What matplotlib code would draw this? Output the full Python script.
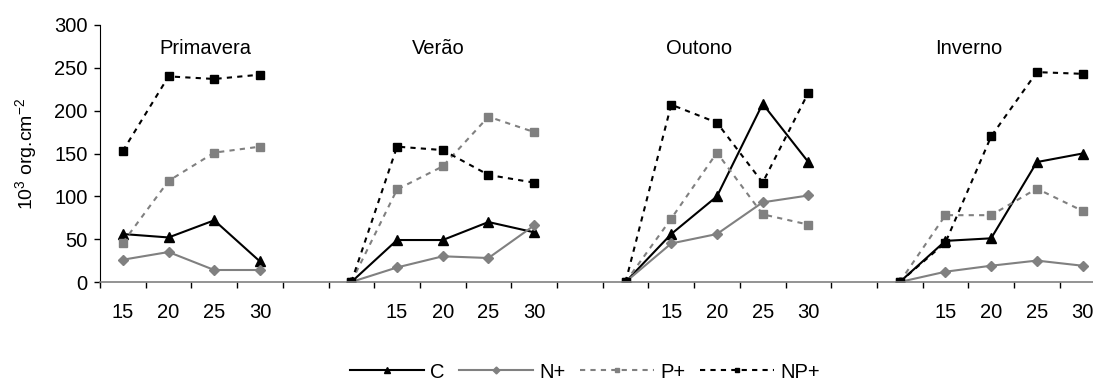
import numpy as np
import matplotlib.pyplot as plt
from matplotlib.lines import Line2D

plt.rcParams['font.family'] = ['Liberation Sans', 'DejaVu Sans']
plt.rcParams['mathtext.fontset'] = 'custom'
plt.rcParams['mathtext.rm'] = 'Liberation Sans'

# seasons and temperatures
seasons = ["Primavera", "Verão", "Outono", "Inverno"]
temps = ["15", "20", "25", "30"]

# values per season (Verão, Outono, Inverno start with a 0 point)
c_vals = [[56, 52, 72, 24], [0, 49, 49, 70, 58], [0, 56, 100, 208, 140], [0, 48, 51, 140, 150]]
n_vals = [[26, 35, 14, 14], [0, 17, 30, 28, 66], [0, 45, 56, 93, 101], [0, 12, 19, 25, 19]]
p_vals = [[46, 118, 151, 158], [0, 108, 135, 193, 175], [0, 74, 151, 79, 67], [0, 78, 78, 109, 83]]
np_vals = [[153, 240, 237, 242], [0, 158, 154, 125, 116], [0, 207, 186, 116, 221], [0, 46, 170, 245, 243]]


def flatten(groups):
    # join seasons with a gap (NaN) between them
    out = []
    for i, g in enumerate(groups):
        if i > 0:
            out.append(np.nan)
        out.extend(g)
    return np.array(out, dtype=float)


# x tick labels: blank for the 0 point and for gaps
labels = []
for i, g in enumerate(c_vals):
    if i > 0:
        labels.append("")
    if len(g) == 5:
        labels.append("")
    labels.extend(temps)

x = np.arange(len(labels))

fs = 14.5
fig = plt.figure(figsize=(10.93, 3.85), dpi=100)
ax = fig.add_axes([100 / 1093, 1 - 282 / 385, 22 * 45.7 / 1093, 257 / 385])

gray = "#808080"
ax.plot(x, flatten(c_vals), color="black", lw=1.5, marker="^", ms=7.5, label="C")
ax.plot(x, flatten(n_vals), color=gray, lw=1.5, marker="D", ms=5, label="N+")
ax.plot(x, flatten(p_vals), color=gray, lw=1.5, dashes=(2.5, 2.5), marker="s", ms=5.5, label="P+")
ax.plot(x, flatten(np_vals), color="black", lw=1.5, dashes=(2.5, 2.5), marker="s", ms=5.5, label="NP+")

ax.set_xlim(-0.5, len(labels) - 0.5)
ax.set_ylim(0, 300)
ax.set_yticks(range(0, 301, 50))
ax.set_xticks(x)
ax.set_xticklabels(labels)
ax.set_xticks(np.arange(-0.5, len(labels), 1), minor=True)
ax.tick_params(axis="x", which="major", length=0, pad=15, labelsize=fs)
ax.tick_params(axis="x", which="minor", length=4, color="black", width=1)
ax.tick_params(axis="y", length=4, width=1, pad=5, labelsize=fs)

ax.spines["top"].set_visible(False)
ax.spines["right"].set_visible(False)
ax.spines["bottom"].set_color(gray)
ax.spines["bottom"].set_linewidth(1.2)

ax.set_ylabel(r"10$^{\mathregular{3}}$ org.cm$^{\mathregular{-2}}$", fontsize=fs - 0.5, labelpad=10)

title_pos = [1.8, 6.9, 12.6, 18.5]
for name, xp in zip(seasons, title_pos):
    ax.text(xp, 273, name, ha="center", va="center", fontsize=fs)

handles = [
    Line2D([], [], color="black", lw=1.5, marker="^", ms=5),
    Line2D([], [], color=gray, lw=1.5, marker="D", ms=3.5),
    Line2D([], [], color=gray, lw=1.5, dashes=(2.5, 2.5), marker="s", ms=3.5),
    Line2D([], [], color="black", lw=1.5, dashes=(2.5, 2.5), marker="s", ms=3.5),
]
fig.legend(handles, ["C", "N+", "P+", "NP+"], loc="center", bbox_to_anchor=(0.535, 13 / 385),
           ncol=4, frameon=False, fontsize=fs, handlelength=3.7, handletextpad=0.3,
           columnspacing=0.7)

fig.savefig("out.png", dpi=100)
